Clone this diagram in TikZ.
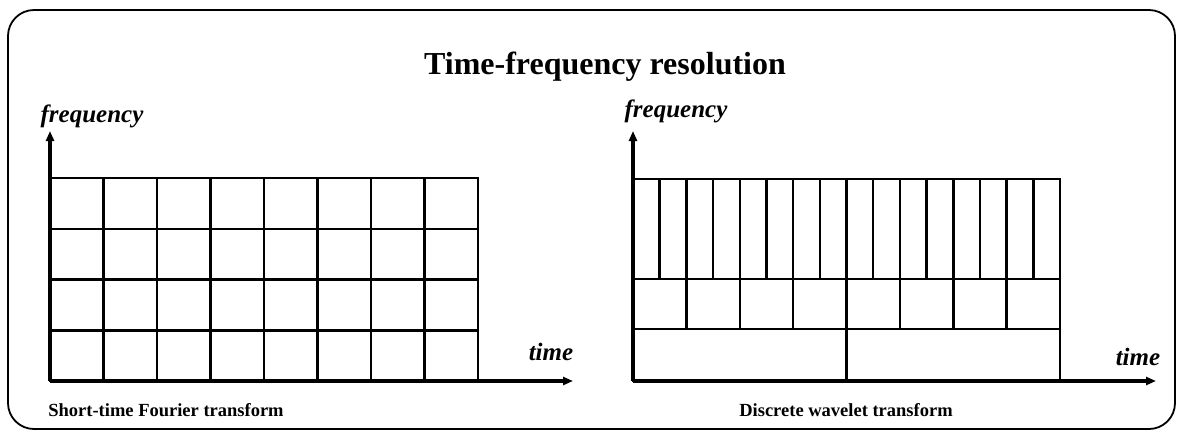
\documentclass[tikz,border=0pt]{standalone}
\usepackage{fontspec}
\setmainfont{Liberation Serif}
\usetikzlibrary{arrows.meta}
\begin{document}
\begin{tikzpicture}[x=1pt,y=-1pt,
  frame/.style={line width=1.8pt,rounded corners=26pt},
  cell/.style={line width=2.5pt},
  axis/.style={line width=3.4pt,-{Triangle[length=10pt,width=8pt]}},
  axislabel/.style={font=\fontsize{25}{28}\selectfont\bfseries\itshape,inner sep=0pt},
  caption/.style={font=\fontsize{18.5}{21}\selectfont\bfseries,inner sep=0pt},
  heading/.style={font=\fontsize{32}{36}\selectfont\bfseries,inner sep=0pt}]
\useasboundingbox (0,0) rectangle (1178,432);
\draw[frame] (8,10) rectangle (1175,429);

\node[heading] (title) at (605,67) {Time-frequency resolution};

% ---- short-time Fourier transform: uniform tiling
\foreach \i in {1,...,7} \draw[cell] (50+\i*53.5,178) -- (50+\i*53.5,381);
\foreach \j in {1,2,3} \draw[cell] (50,178+\j*50.75) -- (478,178+\j*50.75);
\draw[cell] (50,178) rectangle (478,381);
\coordinate (o1) at (50,381);
\coordinate (f1) at (50,131);
\coordinate (t1) at (573,381);
\draw[axis] (o1) -- (f1);
\draw[axis] (o1) -- (t1);
\node[axislabel] (fl1) at (92,116) {frequency};
\node[axislabel] (tl1) at (551,352) {time};
\node[caption] (c1) at (166,410) {Short-time Fourier transform};

% ---- discrete wavelet transform: dyadic tiling
\foreach \i in {1,...,15} \draw[cell] (633+\i*26.6875,179) -- (633+\i*26.6875,279);
\foreach \i in {1,...,7} \draw[cell] (633+\i*53.375,279) -- (633+\i*53.375,329);
\draw[cell] (846.5,329) -- (846.5,381);
\draw[cell] (633,279) -- (1060,279);
\draw[cell] (633,329) -- (1060,329);
\draw[cell] (633,179) rectangle (1060,381);
\coordinate (o2) at (633,381);
\coordinate (f2) at (633,131);
\coordinate (t2) at (1156,381);
\draw[axis] (o2) -- (f2);
\draw[axis] (o2) -- (t2);
\node[axislabel] (fl2) at (676,111) {frequency};
\node[axislabel] (tl2) at (1138,357) {time};
\node[caption] (c2) at (846,410) {Discrete wavelet transform};
\end{tikzpicture}
\end{document}
